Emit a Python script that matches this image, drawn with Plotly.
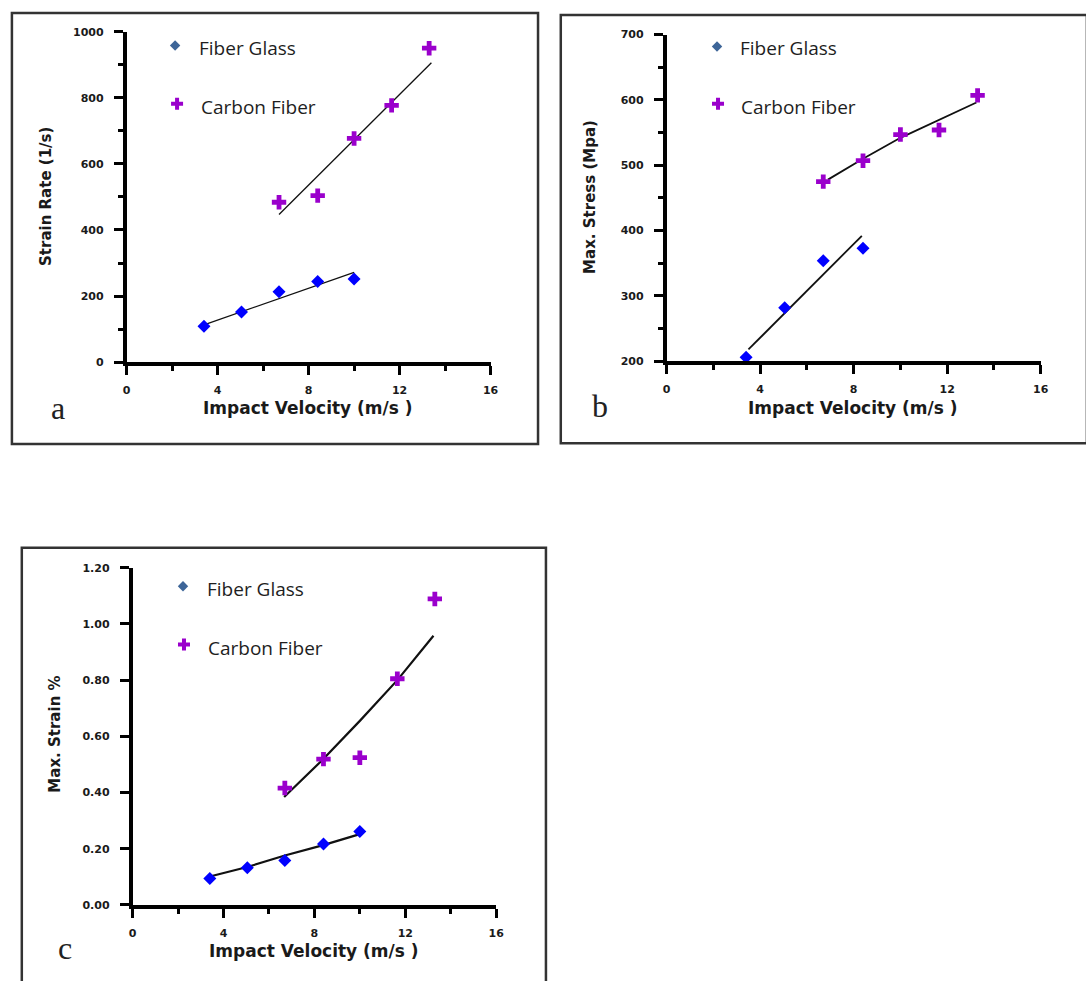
import plotly.graph_objects as go

W, H = 1086, 981

# ---------------- data ----------------
vel_fg = [3.4, 5.05, 6.7, 8.4, 10.0]
vel_cf = [6.7, 8.4, 10.0, 11.65, 13.3]

# (a) Strain rate (1/s)
a_fg = [109, 152, 213, 244, 252]
a_cf = [484, 504, 677, 777, 950]
a_fg_fit_x = [3.4, 10.0]
a_fg_fit_y = [113, 272]
a_cf_fit_x = [6.7, 13.4]
a_cf_fit_y = [447, 906]

# (b) Max. stress (MPa)
b_fg_x = [3.4, 5.05, 6.7, 8.4]
b_fg = [206, 282, 354, 373]
b_cf = [475, 507, 547, 554, 607]
b_fg_fit_x = [3.5, 8.35]
b_fg_fit_y = [218, 392]
b_cf_fit_x = [6.9, 8.4, 10.0, 11.6, 13.25]
b_cf_fit_y = [478, 510, 542, 569, 596]

# (c) Max. strain %
c_fg = [0.094, 0.132, 0.158, 0.217, 0.261]
c_cf = [0.416, 0.519, 0.524, 0.805, 1.089]
c_fg_fit_x = [3.4, 5.05, 6.7, 8.35, 10.0]
c_fg_fit_y = [0.101, 0.135, 0.176, 0.212, 0.252]
c_cf_fit_x = [6.67, 8.34, 10.0, 11.65, 13.24]
c_cf_fit_y = [0.384, 0.515, 0.655, 0.80, 0.958]

series_names = ["Fiber Glass", "Carbon Fiber"]
x_title = "Impact Velocity (m/s )"
y_titles = ["Strain Rate (1/s)", "Max. Stress (Mpa)", "Max. Strain %"]
panel_letters = ["a", "b", "c"]

# ---------------- styles ----------------
BLUE = "#0000ff"
PURPLE = "#9a00cc"
LEG_BLUE = "#3d6598"
TICK_FONT = dict(family="DejaVu Sans", size=11, color="#1a1a1a", weight="bold")
TITLE_FONT_X = dict(family="DejaVu Sans", size=17, color="#1a1a1a", weight="bold")
TITLE_FONT_Y = dict(family="DejaVu Sans", size=15, color="#1a1a1a", weight="bold")
LEG_FONT = dict(family="Open Sans", size=19, color="#1e1e1e")
LETTER_FONT = dict(family="Liberation Serif", size=32, color="#222222")


def px(x):
    return x / W


def py(y):
    return 1 - y / H


fig = go.Figure()


def add_panel(idx, xs_fg, ys_fg, xs_cf, ys_cf, fits, lw):
    xa = "x" if idx == 1 else f"x{idx}"
    ya = "y" if idx == 1 else f"y{idx}"
    for fx, fy in fits:
        fig.add_trace(go.Scatter(x=fx, y=fy, mode="lines", xaxis=xa, yaxis=ya,
                                 line=dict(color="#111111", width=lw),
                                 showlegend=False, hoverinfo="skip"))
    fig.add_trace(go.Scatter(x=xs_fg, y=ys_fg, mode="markers", xaxis=xa, yaxis=ya,
                             name=series_names[0], showlegend=False,
                             marker=dict(symbol="diamond", size=10, color=BLUE)))
    fig.add_trace(go.Scatter(x=xs_cf, y=ys_cf, mode="markers", xaxis=xa, yaxis=ya,
                             name=series_names[1], showlegend=False,
                             marker=dict(symbol="cross", size=12, color=PURPLE)))


add_panel(1, vel_fg, a_fg, vel_cf, a_cf,
          [(a_fg_fit_x, a_fg_fit_y), (a_cf_fit_x, a_cf_fit_y)], 1.3)
add_panel(2, b_fg_x, b_fg, vel_cf, b_cf,
          [(b_fg_fit_x, b_fg_fit_y), (b_cf_fit_x, b_cf_fit_y)], 1.8)
add_panel(3, vel_fg, c_fg, vel_cf, c_cf,
          [(c_fg_fit_x, c_fg_fit_y), (c_cf_fit_x, c_cf_fit_y)], 2.2)

# legend markers on a full-page overlay axis (pixel coordinates)
leg_pos = [  # (diamond x, y), (plus x, y) per panel
    ((173, 40), (175, 99)),
    ((721, 41), (722, 99)),
    ((181, 588), (182, 647)),
]
for (d, p) in leg_pos:
    fig.add_trace(go.Scatter(x=[d[0]], y=[d[1]], mode="markers", xaxis="x4", yaxis="y4",
                             marker=dict(symbol="diamond", size=8, color=LEG_BLUE),
                             showlegend=False, hoverinfo="skip"))
    fig.add_trace(go.Scatter(x=[p[0]], y=[p[1]], mode="markers", xaxis="x4", yaxis="y4",
                             marker=dict(symbol="cross", size=10, color=PURPLE),
                             showlegend=False, hoverinfo="skip"))


def xaxis_cfg(x0, x1, anchor):
    return dict(domain=[px(x0), px(x1)], range=[0, 16], anchor=anchor,
                tickmode="array", tickvals=[0, 4, 8, 12, 16],
                ticktext=["0", "4", "8", "12", "16"],
                ticks="outside", ticklen=9, tickwidth=3, tickcolor="#000",
                minor=dict(tickvals=[2, 6, 10, 14], ticks="outside", ticklen=5,
                           tickwidth=3, tickcolor="#000"),
                showline=True, linewidth=3.5, linecolor="#000",
                showgrid=False, zeroline=False, tickfont=TICK_FONT,
                ticklabelstandoff=6, fixedrange=True)


def yaxis_cfg(y0, y1, rng, vals, text, minor_vals, anchor):
    d = dict(domain=[py(y0), py(y1)], range=rng, anchor=anchor,
             tickmode="array", tickvals=vals, ticktext=text,
             ticks="outside", ticklen=9, tickwidth=3, tickcolor="#000",
             showline=True, linewidth=3.5, linecolor="#000",
             showgrid=False, zeroline=False, tickfont=TICK_FONT,
             ticklabelstandoff=8, fixedrange=True)
    if minor_vals:
        d["minor"] = dict(tickvals=minor_vals, ticks="outside", ticklen=5,
                          tickwidth=3, tickcolor="#000")
    return d


a_ticks = [0, 200, 400, 600, 800, 1000]
b_ticks = [200, 300, 400, 500, 600, 700]
c_ticks = [0, 0.2, 0.4, 0.6, 0.8, 1.0, 1.2]

layout = dict(
    width=W, height=H, margin=dict(l=0, r=0, t=0, b=0),
    paper_bgcolor="white", plot_bgcolor="rgba(0,0,0,0)", showlegend=False,
    xaxis=xaxis_cfg(124, 492, "y"),
    yaxis=yaxis_cfg(361, 26, [0, 1000], a_ticks, [str(v) for v in a_ticks],
                    [100, 300, 500, 700, 900], "x"),
    xaxis2=xaxis_cfg(670, 1048.3, "y2"),
    yaxis2=yaxis_cfg(360, 29, [200, 700], b_ticks, [str(v) for v in b_ticks],
                     [250, 350, 450, 550, 650], "x2"),
    xaxis3=xaxis_cfg(130, 497.7, "y3"),
    yaxis3=yaxis_cfg(911, 569.3, [0, 1.2], c_ticks, [f"{v:.2f}" for v in c_ticks],
                     None, "x3"),
    xaxis4=dict(domain=[0, 1], range=[0, W], visible=False, anchor="y4", fixedrange=True),
    yaxis4=dict(domain=[0, 1], range=[H, 0], visible=False, anchor="x4", fixedrange=True),
)
fig.update_layout(**layout)

# panel frames
frames = [(8, 7, 540, 444), (563, 9, 1095, 443), (18, 549, 548, 995)]
for (x0, y0, x1, y1) in frames:
    fig.add_shape(type="rect", xref="paper", yref="paper",
                  x0=px(x0), x1=px(x1), y0=py(y0), y1=py(y1),
                  line=dict(color="#333333", width=2.5), layer="below")

ann = []
# axis titles
for (cx, cy) in [(307, 407), (858, 407), (313, 958)]:
    ann.append(dict(x=px(cx), y=py(cy), xref="paper", yref="paper", text=x_title,
                    showarrow=False, font=TITLE_FONT_X, xanchor="center", yanchor="middle"))
for t, (cx, cy) in zip(y_titles, [(43, 193), (593, 193), (52, 738)]):
    ann.append(dict(x=px(cx), y=py(cy), xref="paper", yref="paper", text=t,
                    textangle=-90, showarrow=False, font=TITLE_FONT_Y,
                    xanchor="center", yanchor="middle"))
# legend labels
leg_text = [((195, 43), (197, 102)), ((742, 43), (743, 102)), ((203, 591), (204, 651))]
for (g, c) in leg_text:
    ann.append(dict(x=px(g[0]), y=py(g[1]), xref="paper", yref="paper", text=series_names[0],
                    showarrow=False, font=LEG_FONT, xanchor="left", yanchor="middle"))
    ann.append(dict(x=px(c[0]), y=py(c[1]), xref="paper", yref="paper", text=series_names[1],
                    showarrow=False, font=LEG_FONT, xanchor="left", yanchor="middle"))
# panel letters
for letter, (cx, cy) in zip(panel_letters, [(55, 407), (603, 405), (62, 955)]):
    ann.append(dict(x=px(cx), y=py(cy), xref="paper", yref="paper", text=letter,
                    showarrow=False, font=LETTER_FONT, xanchor="center", yanchor="middle"))
fig.update_layout(annotations=ann)

fig.write_html("out.html")
